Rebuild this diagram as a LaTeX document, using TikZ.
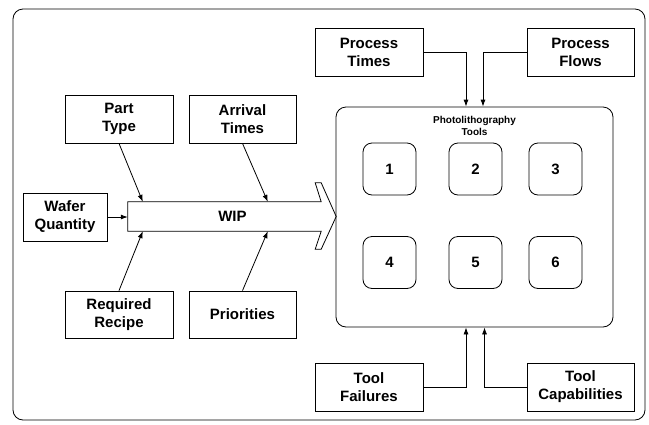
\documentclass[tikz,border=0pt]{standalone}
\usepackage{fontspec}
\setmainfont{Liberation Sans}
\usetikzlibrary{arrows.meta, calc, positioning}
\tikzset{
    box/.style={draw, line width=0.8pt, minimum width=108pt, minimum height=48pt, align=center, inner sep=1pt,
        font=\fontsize{15}{18}\selectfont\bfseries},
    toolbox/.style={draw, line width=0.8pt, rounded corners=9pt, minimum width=53pt, minimum height=52pt,
        font=\fontsize{15}{18}\selectfont\bfseries},
    feed/.style={-{Latex[length=7pt,width=5pt]}, line width=0.8pt}
}

\begin{document}
\begin{tikzpicture}[x=1pt, y=-1pt]
    \useasboundingbox (0,0) rectangle (649,424);
    \draw[line width=0.8pt, rounded corners=10pt] (13,9) rectangle (645,420);
    % WIP queue
    \node[minimum width=193pt, minimum height=29pt, inner sep=0pt] (wip) at (224.5,216.5) {};
    \draw[line width=0.8pt] (wip.north west) -- (wip.north east) -- ++(-6,-19) -- ++(6,0)
        -- ($(wip.east)+(15,0)$) -- ($(wip.south east)+(0,18)$) -- ++(-6,0)
        -- (wip.south east) -- (wip.south west) -- cycle;
    \node[font=\fontsize{15}{18}\selectfont\bfseries] (wiptext) at ($(wip.center)+(8,0)$) {WIP};
    % inputs to WIP
    \node[box] (part) at (119,119) {Part\\Type};
    \node[box, minimum width=107pt] (arrival) at (242.5,119) {Arrival\\Times};
    \node[box, minimum width=84pt] (wafer) at (65,217) {Wafer\\Quantity};
    \node[box, minimum height=47pt] (recipe) at (119,314.5) {Required\\Recipe};
    \node[box, minimum width=107pt, minimum height=47pt] (prio) at (242.5,314.5) {Priorities};
    \draw[feed] (part.south) -- ([xshift=15pt]wip.north west);
    \draw[feed] (arrival.south) -- ([xshift=140pt]wip.north west);
    \draw[feed] (recipe.north) -- ([xshift=15pt]wip.south west);
    \draw[feed] (prio.north) -- ([xshift=140pt]wip.south west);
    \draw[feed] (wafer.east) -- (wafer.east -| wip.west);
    % tool set
    \node[draw, line width=0.8pt, rounded corners=10pt, minimum width=277pt, minimum height=220pt] (photo) at (474.5,217) {};
    \node[align=center, font=\fontsize{10}{12}\selectfont\bfseries] (title) at (474.5,126) {Photolithography\\Tools};
    \node[toolbox] (t1) at (389.5,169) {1};
    \node[toolbox] (t2) at (475.5,169) {2};
    \node[toolbox] (t3) at (555.5,169) {3};
    \node[toolbox] (t4) at (389.5,262.5) {4};
    \node[toolbox] (t5) at (475.5,262.5) {5};
    \node[toolbox] (t6) at (555.5,262.5) {6};
    % inputs to tools
    \node[box] (ptimes) at (369,52) {Process\\Times};
    \node[box, minimum width=107pt] (pflows) at (580.5,52) {Process\\Flows};
    \node[box] (tfail) at (369,387) {Tool\\Failures};
    \node[box, minimum width=107pt] (tcap) at (580.5,387) {Tool\\Capabilities};
    \draw[feed] (ptimes.east) -| ([xshift=-8.5pt]photo.north);
    \draw[feed] (pflows.west) -| ([xshift=8.5pt]photo.north);
    \draw[feed] (tfail.east) -| ([xshift=-8.5pt]photo.south);
    \draw[feed] (tcap.west) -| ([xshift=10pt]photo.south);
\end{tikzpicture}
\end{document}
